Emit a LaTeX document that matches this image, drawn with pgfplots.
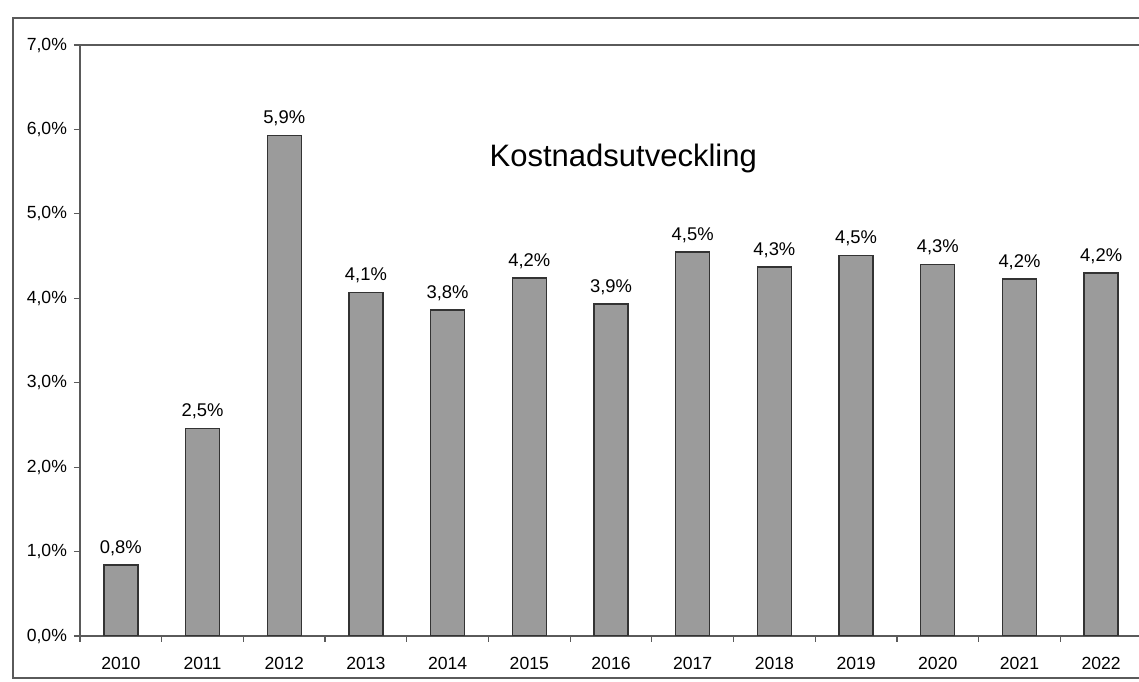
\documentclass[border=0pt]{standalone}
\usepackage{fontspec}
\setmainfont{Liberation Sans}
\usepackage{pgfplots}
\pgfplotsset{compat=1.18}
\usepackage{pgfplotstable}

\definecolor{barfill}{RGB}{155,155,155}
\definecolor{frame}{RGB}{90,90,90}

% cost development per year, label text as printed on the chart
\pgfplotstableread{
x  y    lbl
0  0.84 0,8
1  2.46 2,5
2  5.93 5,9
3  4.07 4,1
4  3.86 3,8
5  4.24 4,2
6  3.93 3,9
7  4.55 4,5
8  4.37 4,3
9  4.51 4,5
10 4.40 4,3
11 4.23 4,2
12 4.30 4,2
}\costs

\begin{document}
\begin{tikzpicture}
\begin{axis}[
  name=ax,
  scale only axis, width=531pt, height=295.5pt,
  xmin=-0.5, xmax=12.5, ymin=0, ymax=7,
  ybar, bar width=17pt,
  axis line style={draw=frame, line width=0.6pt},
  tick style={draw=frame, line width=0.6pt},
  tick align=outside, major tick length=3pt,
  xtick pos=bottom, ytick pos=left,
  ytick={0,...,7},
  yticklabels={{0,0\%},{1,0\%},{2,0\%},{3,0\%},{4,0\%},{5,0\%},{6,0\%},{7,0\%}},
  xtick={-0.5,0.5,...,12.5},
  x tick label as interval,
  xticklabels={2010,2011,2012,2013,2014,2015,2016,2017,2018,2019,2020,2021,2022},
  ticklabel style={font=\fontsize{8.8}{10}\selectfont},
  xticklabel style={yshift=-4pt},
  point meta=explicit symbolic,
  nodes near coords={\pgfplotspointmeta\%},
  every node near coord/.append style={font=\fontsize{9.2}{11}\selectfont, yshift=1pt},
]
\addplot[fill=barfill, draw=black!80, line width=0.7pt]
  table[x=x, y=y, meta=lbl] {\costs};
\node[font=\fontsize{15.5}{18}\selectfont] at (axis cs:6.15,5.65) {Kostnadsutveckling};
\end{axis}
\draw[frame, line width=0.7pt]
  ([shift={(-33.5pt,-21pt)}]ax.south west) rectangle ([shift={(30pt,13.5pt)}]ax.north east);
\pgfresetboundingbox
\useasboundingbox ([shift={(-40pt,-23pt)}]ax.south west) rectangle ([shift={(-1.5pt,22.5pt)}]ax.north east);
\end{tikzpicture}
\end{document}
